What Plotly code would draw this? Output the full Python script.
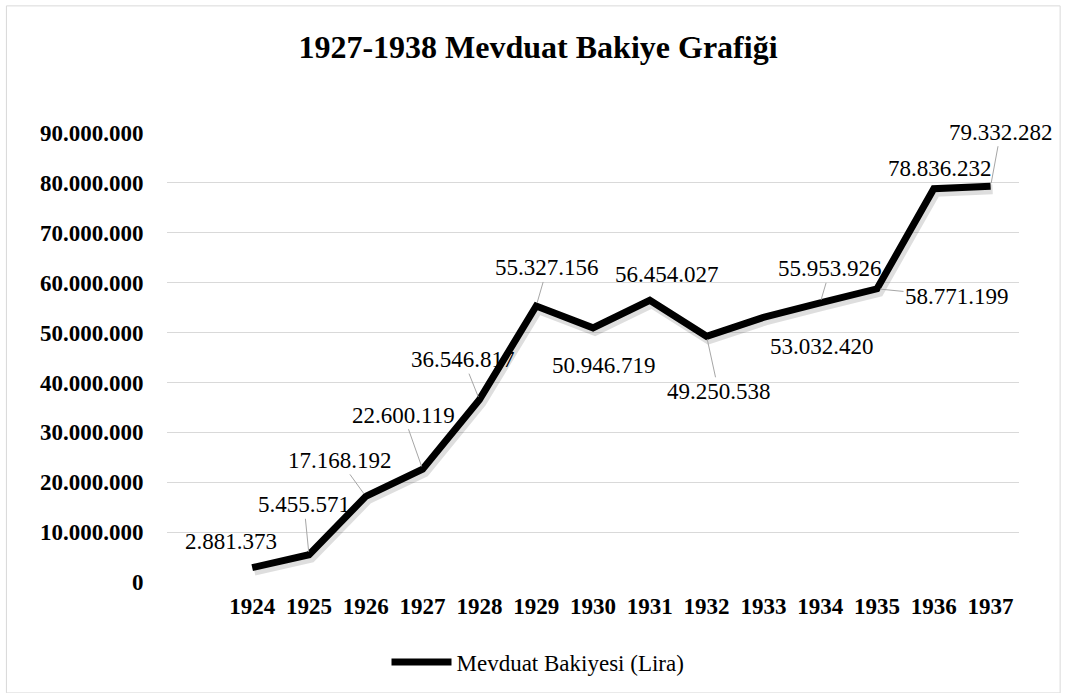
import plotly.graph_objects as go

years = [1924, 1925, 1926, 1927, 1928, 1929, 1930, 1931, 1932, 1933, 1934, 1935, 1936, 1937]
balances = [2881373, 5455571, 17168192, 22600119, 36546817, 55327156, 50946719,
            56454027, 49250538, 53032420, 55953926, 58771199, 78836232, 79332282]
series_name = "Mevduat Bakiyesi (Lira)"
title_text = "1927-1938 Mevduat Bakiye Grafiği"
y_ticks = [0, 10000000, 20000000, 30000000, 40000000, 50000000, 60000000, 70000000, 80000000, 90000000]

# label offsets in pixels (style, not data) and whether a leader line is drawn
label_dx = [-21, -5, -26, -19, -16, 11, 11, 17, 12, 59, 10, 80, 6, 10]
label_dy = [-26, -50, -36, -54, -40, -38, 38, -26, 55, 29, -34, 8, -20, -54]
leader = [False, True, True, True, True, True, False, False, True, False, True, True, False, True]

W, H = 1065, 693
ml, mr, mt, mb = 167, 43, 133, 107
pw, ph = W - ml - mr, H - mt - mb
SH_X, SH_Y = 3, 4
xr = [1922.5, 1937.5]
yr = [0, 90000000]
dom_x_main = [0, 1 - SH_X / pw]
dom_y_main = [SH_Y / ph, 1]
W_main = pw - SH_X
H_main = ph - SH_Y
OFF_X, OFF_Y = 2, 3

FONT = "Liberation Serif"

fig = go.Figure()

# base subplot carrier (invisible) so the visible axes and grid are drawn
fig.add_trace(go.Scatter(
    x=years, y=balances, mode="lines", xaxis="x", yaxis="y",
    line=dict(color="rgba(0,0,0,0)", width=0), showlegend=False, hoverinfo="skip"))
# shadow
fig.add_trace(go.Scatter(
    x=years, y=balances, mode="lines", xaxis="x2", yaxis="y2",
    line=dict(color="rgba(0,0,0,0.13)", width=10), showlegend=False, hoverinfo="skip"))
# main line
fig.add_trace(go.Scatter(
    x=years, y=balances, mode="lines", xaxis="x3", yaxis="y3", name=series_name,
    line=dict(color="black", width=7)))

dxr = (xr[1] - xr[0]) * OFF_X / W_main
dyr = (yr[1] - yr[0]) * OFF_Y / H_main

annotations = []
for yv, v, dx, dy, ld in zip(years, balances, label_dx, label_dy, leader):
    annotations.append(dict(
        x=yv, y=v, xref="x3", yref="y3", ax=dx, ay=dy, axref="pixel", ayref="pixel",
        text=f"{v:,}".replace(",", "."), showarrow=True, arrowhead=0, arrowwidth=1,
        arrowcolor="#a6a6a6" if ld else "rgba(0,0,0,0)", standoff=3, startstandoff=0,
        font=dict(family=FONT, size=23, color="black")))

common_hidden = dict(visible=False, showgrid=False, zeroline=False)
tick_font = dict(family=FONT, size=23, color="black", weight="bold")

fig.update_layout(
    width=W, height=H,
    margin=dict(l=ml, r=mr, t=mt, b=mb, autoexpand=False),
    paper_bgcolor="white", plot_bgcolor="white",
    separators=",.",
    font=dict(family=FONT, color="black"),
    title=dict(text=title_text, x=538 / W, xref="container", xanchor="center",
               y=1 - 47 / H, yref="container", yanchor="middle",
               font=dict(family=FONT, size=32, color="black", weight="bold")),
    xaxis=dict(domain=dom_x_main, range=xr, tickvals=years, ticktext=[str(y) for y in years],
               showgrid=False, zeroline=False, showline=False, ticks="outside", ticklen=3,
               tickcolor="rgba(0,0,0,0)", tickfont=tick_font),
    yaxis=dict(domain=dom_y_main, range=yr, tickvals=y_ticks, tickformat=",d",
               showgrid=True, gridcolor="#d9d9d9", gridwidth=1, zeroline=False, showline=False,
               ticks="outside", ticklen=18, tickcolor="rgba(0,0,0,0)", tickfont=tick_font),
    xaxis2=dict(overlaying="x", range=[xr[0] - dxr, xr[1] - dxr], anchor="y2", **common_hidden),
    yaxis2=dict(overlaying="y", range=[yr[0] + dyr, yr[1] + dyr], anchor="x2", **common_hidden),
    xaxis3=dict(overlaying="x", range=xr, anchor="y3", **common_hidden),
    yaxis3=dict(overlaying="y", range=yr, anchor="x3", **common_hidden),
    showlegend=True,
    legend=dict(orientation="h", xref="container", yref="container", x=538 / W, xanchor="center",
                y=1 - 662 / H, yanchor="middle", itemwidth=60,
                font=dict(family=FONT, size=23, color="black"), bgcolor="rgba(0,0,0,0)"),
    annotations=annotations,
    shapes=[dict(type="rect", xref="paper", yref="paper",
                 x0=(7 - ml) / W_main, x1=(1057 - ml) / W_main,
                 y0=(H - mb - SH_Y - 688) / H_main, y1=(H - mb - SH_Y - 7) / H_main,
                 line=dict(color="#d9d9d9", width=1), fillcolor="rgba(0,0,0,0)", layer="below")],
)

fig.write_html("out.html", config={"displayModeBar": False},
               post_script="document.body.style.margin='0';document.body.style.overflow='hidden';")
